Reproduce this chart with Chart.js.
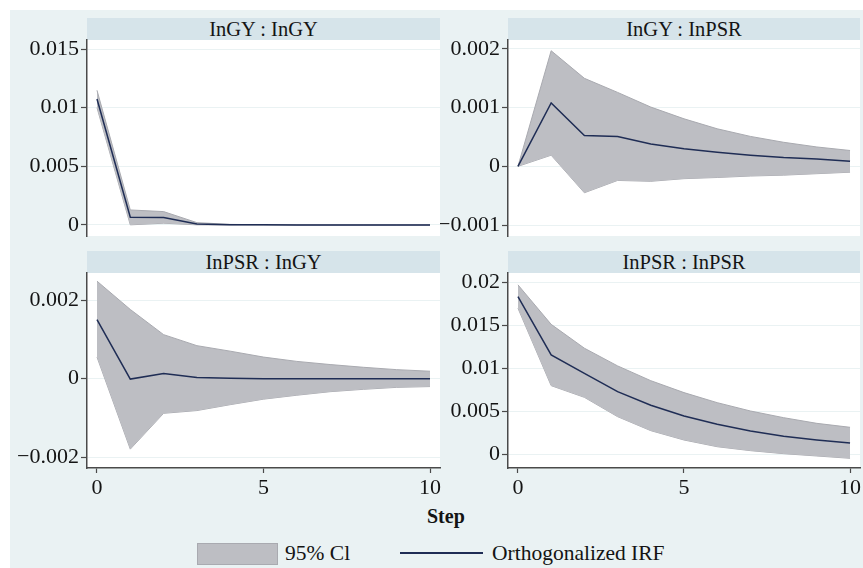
<!DOCTYPE html>
<html>
<head>
<meta charset="utf-8">
<script src="https://cdn.jsdelivr.net/npm/chart.js@4.4.1/dist/chart.umd.min.js"></script>
<style>
  html, body { margin: 0; padding: 0; background: #ffffff; width: 863px; height: 568px; overflow: hidden; }
  #graph { position: absolute; left: 10px; top: 10px; width: 853px; height: 558px; background: #eaf2f3; }
  .hdr { position: absolute; background: #d6e4ea; color: #141414; font: 20.5px "Liberation Serif", serif;
         text-align: center; line-height: 22px; height: 22px; white-space: nowrap; }
  canvas.panel { position: absolute; }
  .txt { position: absolute; color: #141414; font: 21.5px "Liberation Serif", serif; white-space: nowrap; line-height: 22px; }
  #step { font-weight: bold; font-size: 20px; }
  #ciKey { position: absolute; left: 197px; top: 543px; width: 79px; height: 20px; background: #bdbec3; border: 1px solid #a9aab0; }
  #irfKey { position: absolute; left: 400px; top: 552px; width: 83px; height: 1.5px; background: #1f2d55; }
</style>
</head>
<body>
<div id="graph"></div>
<div id="headers"></div>
<canvas id="pTL" class="panel"></canvas>
<canvas id="pTR" class="panel"></canvas>
<canvas id="pBL" class="panel"></canvas>
<canvas id="pBR" class="panel"></canvas>
<div id="step" class="txt" style="left:427px; top:505px;">Step</div>
<div id="ciKey"></div>
<div class="txt" style="left:285px; top:542px;">95% Cl</div>
<div id="irfKey"></div>
<div class="txt" style="left:492px; top:542px;">Orthogonalized IRF</div>

<script>
// Forecast horizon
const steps = [0, 1, 2, 3, 4, 5, 6, 7, 8, 9, 10];

// Panel titles (impulse : response)
const panelTitles = ['InGY : InGY', 'InGY : InPSR', 'InPSR : InGY', 'InPSR : InPSR'];

// lnGY -> lnGY
const gyGyIrf   = [0.01074, 0.00066, 0.00064, 0.00009, 0.00002, 0.00001, 0, 0, 0, 0, 0];
const gyGyLower = [0.01000, 0.00001, 0.00015, 0.00001, 0, 0, 0, 0, 0, 0, 0];
const gyGyUpper = [0.01148, 0.00128, 0.00114, 0.00020, 0.00005, 0.00002, 0.00001, 0, 0, 0, 0];

// lnGY -> lnPSR
const gyPsrIrf   = [0, 0.00108, 0.000527, 0.00051, 0.00038, 0.00030, 0.00024, 0.00019, 0.00015, 0.000125, 0.000085];
const gyPsrLower = [0, 0.00019, -0.00045, -0.00024, -0.000255, -0.00021, -0.00019, -0.000165, -0.00015, -0.000125, -0.0001];
const gyPsrUpper = [0, 0.00197, 0.00150, 0.00126, 0.00101, 0.00081, 0.00064, 0.00051, 0.00041, 0.00033, 0.00027];

// lnPSR -> lnGY
const psrGyIrf   = [0.0015, -0.00001, 0.00013, 0.00003, 0.00001, 0, 0, 0, 0, 0, 0];
const psrGyLower = [0.00055, -0.00179, -0.00088, -0.00081, -0.00066, -0.00052, -0.00042, -0.00033, -0.00027, -0.00022, -0.0002];
const psrGyUpper = [0.00248, 0.00176, 0.00112, 0.00084, 0.00070, 0.00055, 0.00044, 0.00036, 0.00029, 0.00023, 0.00019];

// lnPSR -> lnPSR
const psrPsrIrf   = [0.01833, 0.01154, 0.0094, 0.00726, 0.00567, 0.00443, 0.00346, 0.00268, 0.00206, 0.00163, 0.00128];
const psrPsrLower = [0.01698, 0.00796, 0.0066, 0.00435, 0.00272, 0.00163, 0.00085, 0.00039, 0.00004, -0.00023, -0.0005];
const psrPsrUpper = [0.0197, 0.0151, 0.01232, 0.01026, 0.00854, 0.00715, 0.00598, 0.00501, 0.00423, 0.00357, 0.00311];

// Axis ticks
const xTickValues = [0, 5, 10];
const xTickLabels = ['0', '5', '10'];
const yTicksTL = [0, 0.005, 0.01, 0.015];
const yLabelsTL = ['0', '0.005', '0.01', '0.015'];
const yTicksTR = [-0.001, 0, 0.001, 0.002];
const yLabelsTR = ['\u22120.001', '0', '0.001', '0.002'];
const yTicksBL = [-0.002, 0, 0.002];
const yLabelsBL = ['\u22120.002', '0', '0.002'];
const yTicksBR = [0, 0.005, 0.01, 0.015, 0.02];
const yLabelsBR = ['0', '0.005', '0.01', '0.015', '0.02'];

// Styling
const axisColor = '#4a4a4a';
const gridColor = '#eaf2f3';
const bandFill = '#bdbec3';
const bandEdge = '#a9aab0';
const lineColor = '#1f2d55';
const tickFont = { family: '"Liberation Serif", serif', size: 22 };
const textColor = '#141414';

// White plot region behind the data
const plotBackground = {
  id: 'plotBackground',
  beforeDraw(chart) {
    const { ctx, chartArea: a } = chart;
    ctx.save();
    ctx.fillStyle = '#ffffff';
    ctx.fillRect(a.left, a.top, a.right - a.left, a.bottom - a.top);
    ctx.restore();
  }
};

function pts(ys) { return steps.map((s, i) => ({ x: s, y: ys[i] })); }

// box: plot rectangle (l, t, r, b) and the left edge of the canvas (cl)
function makePanel(id, title, box, irf, lower, upper, yTicks, yLabels, yMin, yMax, showX) {
  const padTop = 18, padRight = 4, padBottom = showX ? 0 : 18, xAxisH = 32;
  const canvas = document.getElementById(id);
  const w = Math.round(box.r + padRight - box.cl);
  const h = Math.round(box.b - box.t + padTop + (showX ? xAxisH : padBottom));
  canvas.width = w; canvas.height = h;
  canvas.style.left = box.cl + 'px';
  canvas.style.top = (box.t - padTop) + 'px';
  canvas.style.width = w + 'px';
  canvas.style.height = h + 'px';

  const hdr = document.createElement('div');
  hdr.className = 'hdr';
  hdr.textContent = title;
  hdr.style.left = box.l + 'px';
  hdr.style.top = (box.t - 22) + 'px';
  hdr.style.width = (box.r - box.l) + 'px';
  document.getElementById('headers').appendChild(hdr);

  new Chart(canvas, {
    type: 'line',
    data: {
      datasets: [
        { data: pts(upper), fill: '+1', backgroundColor: bandFill, borderColor: bandEdge, borderWidth: 1, pointRadius: 0, order: 2 },
        { data: pts(lower), fill: false, borderColor: bandEdge, borderWidth: 1, pointRadius: 0, order: 2 },
        { data: pts(irf), fill: false, borderColor: lineColor, borderWidth: 1.5, pointRadius: 0, order: 1 }
      ]
    },
    options: {
      responsive: false,
      animation: false,
      devicePixelRatio: 1,
      layout: { padding: { left: 0, top: padTop, right: padRight, bottom: padBottom } },
      plugins: { legend: { display: false }, tooltip: { enabled: false } },
      elements: { line: { tension: 0 } },
      scales: {
        x: {
          type: 'linear', min: -0.3, max: 10.3, display: showX,
          afterBuildTicks: s => { s.ticks = xTickValues.map(v => ({ value: v })); },
          afterFit: s => { if (showX) s.height = xAxisH; },
          ticks: { font: tickFont, color: textColor, padding: 2, maxRotation: 0, autoSkip: false,
                   callback: (v, i) => xTickLabels[i] },
          grid: { drawOnChartArea: false, drawTicks: true, tickLength: 5, tickColor: axisColor, tickWidth: 1.2 },
          border: { display: true, color: axisColor, width: 1.5 }
        },
        y: {
          type: 'linear', min: yMin, max: yMax,
          afterBuildTicks: s => { s.ticks = yTicks.map(v => ({ value: v })); },
          afterFit: s => { s.width = box.l - box.cl; },
          ticks: { font: tickFont, color: textColor, padding: 2, autoSkip: false,
                   callback: (v, i) => yLabels[i] },
          grid: { color: gridColor, lineWidth: 1, drawTicks: true, tickLength: 6, tickColor: axisColor, tickWidth: 1.2 },
          border: { display: true, color: axisColor, width: 1.5 }
        }
      }
    },
    plugins: [plotBackground]
  });
}

makePanel('pTL', panelTitles[0], { cl: 10, l: 87, t: 40, r: 440, b: 236 },
          gyGyIrf, gyGyLower, gyGyUpper, yTicksTL, yLabelsTL, -0.00094, 0.01577, false);
makePanel('pTR', panelTitles[1], { cl: 440, l: 508, t: 40, r: 860, b: 236 },
          gyPsrIrf, gyPsrLower, gyPsrUpper, yTicksTR, yLabelsTR, -0.001187, 0.002153, false);
makePanel('pBL', panelTitles[2], { cl: 10, l: 87, t: 273, r: 440, b: 468 },
          psrGyIrf, psrGyLower, psrGyUpper, yTicksBL, yLabelsBL, -0.00227, 0.002687, true);
makePanel('pBR', panelTitles[3], { cl: 440, l: 508, t: 273, r: 860, b: 468 },
          psrPsrIrf, psrPsrLower, psrPsrUpper, yTicksBR, yLabelsBR, -0.00163, 0.02108, true);
</script>
</body>
</html>
